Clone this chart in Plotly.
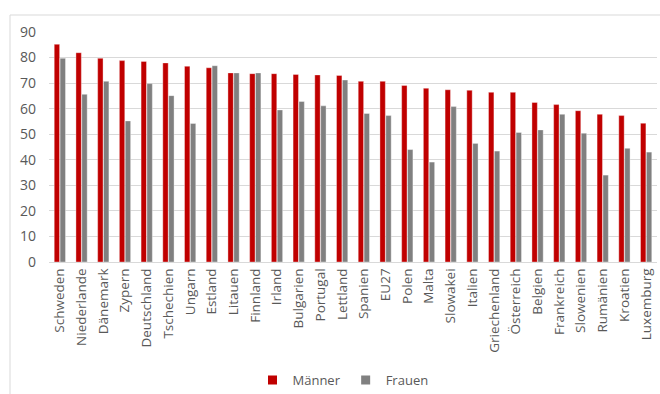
import plotly.graph_objects as go

countries = ["Schweden", "Niederlande", "Dänemark", "Zypern", "Deutschland", "Tschechien",
             "Ungarn", "Estland", "Litauen", "Finnland", "Irland", "Bulgarien", "Portugal",
             "Lettland", "Spanien", "EU27", "Polen", "Malta", "Slowakei", "Italien",
             "Griechenland", "Österreich", "Belgien", "Frankreich", "Slowenien", "Rumänien",
             "Kroatien", "Luxemburg"]
maenner = [85.2, 81.9, 79.7, 78.8, 78.5, 77.9, 76.6, 76.0, 74.0, 73.7, 73.7, 73.4, 73.2,
           73.0, 70.7, 70.7, 69.1, 68.0, 67.4, 67.2, 66.4, 66.4, 62.4, 61.6, 59.2, 57.8,
           57.3, 54.3]
frauen = [79.7, 65.6, 70.7, 55.2, 69.8, 65.1, 54.2, 76.8, 74.0, 74.0, 59.5, 62.8, 61.1,
          71.2, 58.1, 57.3, 44.0, 39.1, 60.8, 46.4, 43.4, 50.7, 51.7, 57.8, 50.4, 34.0,
          44.5, 43.0]
y_ticks = [0, 10, 20, 30, 40, 50, 60, 70, 80, 90]

RED = "#C00000"
GREY = "#808080"

W, H = 660, 394
L, R, T, B = 49, 3, 32, 132
pw = W - L - R
ph = H - T - B

fig = go.Figure()
fig.add_trace(go.Bar(x=countries, y=maenner, name="Männer", showlegend=False,
                     marker=dict(color=RED, line=dict(color="rgba(255,255,255,0.6)", width=0.6))))
fig.add_trace(go.Bar(x=countries, y=frauen, name="Frauen", showlegend=False,
                     marker=dict(color=GREY, line=dict(color="rgba(255,255,255,0.6)", width=0.6))))
# legend entries with square symbols
fig.add_trace(go.Scatter(x=[None], y=[None], mode="markers", name="Männer",
                         marker=dict(symbol="square", size=9, color=RED)))
fig.add_trace(go.Scatter(x=[None], y=[None], mode="markers", name="Frauen",
                         marker=dict(symbol="square", size=9, color=GREY)))

# chart border (light grey frame)
bx = (10 - L) / pw
by = (H - B - 15) / ph
fig.add_shape(type="rect", xref="paper", yref="paper", x0=bx, x1=1.2, y0=-1.0, y1=by,
              line=dict(color="#D9D9D9", width=1), fillcolor="rgba(0,0,0,0)", layer="below")

fig.update_layout(
    width=W, height=H,
    margin=dict(l=L, r=R, t=T, b=B, autoexpand=False),
    paper_bgcolor="white", plot_bgcolor="white",
    barmode="group", bargap=0.46, bargroupgap=0.08,
    font=dict(family="Open Sans", color="#595959", size=13),
    legend=dict(orientation="h", x=(343 - L) / pw, xanchor="center",
                y=(H - B - 380) / ph, yanchor="middle",
                font=dict(size=13, color="#595959"), itemwidth=30,
                traceorder="normal", tracegroupgap=0),
    xaxis=dict(tickangle=-90, showgrid=False, showline=True, linecolor="#D9D9D9",
               linewidth=1, ticks="", tickfont=dict(size=13.5, color="#595959"),
               range=[-0.5, len(countries) - 0.5], automargin=False),
    yaxis=dict(range=[0, 90], tickvals=y_ticks, showgrid=True, gridcolor="#D9D9D9",
               gridwidth=1, zeroline=False, showline=False, ticks="",
               tickfont=dict(size=14, color="#595959"), ticklabelstandoff=12,
               automargin=False),
)

fig.write_html("out.html")
